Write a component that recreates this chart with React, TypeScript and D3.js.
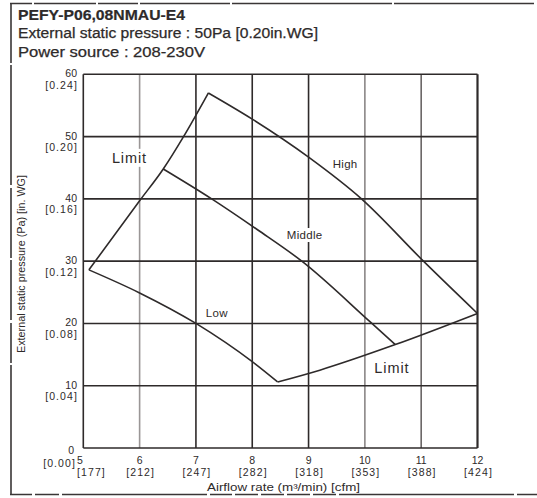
import React, { useEffect, useRef } from "react";
import * as d3 from "d3";

// axis ticks
const airflowTicks = [5, 6, 7, 8, 9, 10, 11, 12];
const cfmLabels = ["177", "212", "247", "282", "318", "353", "388", "424"];
const pressureTicks = [0, 10, 20, 30, 40, 50, 60];
const inWgLabels = ["0.00", "0.04", "0.08", "0.12", "0.16", "0.20", "0.24"];

// curves, [airflow m3/min, pressure Pa]
const leftLimit = [[5.1, 28.6], [6, 39.7], [6.42, 44.8], [6.78, 50], [7.22, 57]];
const highCurve = [[7.22, 57], [8, 52.8], [9, 46.7], [9.94, 40], [11.04, 30], [12, 21.6]];
const middleCurve = [[6.42, 44.8], [7.28, 40], [8.1, 35], [8.88, 30], [10.1, 20.2], [10.54, 16.6]];
const lowCurve = [[5.1, 28.6], [6, 24.9], [7, 20], [8, 13.85], [8.45, 10.6]];
const bottomLimit = [[8.45, 10.6], [9.2, 12.5], [10.54, 16.6], [12, 21.6]];

const curveNames = ["Limit", "High", "Middle", "Low", "Limit"];
const curveLabelPos = [[5.82, 46.6], [9.65, 45.6], [8.93, 34.2], [7.37, 21.6], [10.48, 12.8]];

const titleLines = [
  "PEFY-P06,08NMAU-E4",
  "External static pressure : 50Pa [0.20in.WG]",
  "Power source : 208-230V",
];

function App() {
  const ref = useRef<SVGSVGElement>(null);

  useEffect(() => {
    const svg = d3.select(ref.current);
    svg.selectAll("*").remove();

    const ink = "#2e2a2a";
    const font = "'Liberation Sans', Arial, sans-serif";

    const x = d3.scaleLinear().domain([5, 12]).range([83.3, 477.5]);
    const y = d3.scaleLinear().domain([0, 60]).range([448, 74.3]);

    // scan frame
    const frame = svg.append("g").attr("stroke", "#3a3636").attr("stroke-width", 1.6).attr("fill", "none");
    frame.append("line").attr("x1", 10).attr("x2", 537).attr("y1", 3.5).attr("y2", 3.5)
      .attr("stroke-dasharray", "22 2 62 2 40 2 90 2 160 2 140");
    frame.append("line").attr("x1", 11).attr("x2", 11).attr("y1", 3).attr("y2", 495)
      .attr("stroke-dasharray", "60 2 120 3 70 2 60 3 40 2 160");
    frame.append("line").attr("x1", 10).attr("x2", 537).attr("y1", 494.5).attr("y2", 494.5)
      .attr("stroke-dasharray", "22 3 24 3 145 3 22 3 23 3 23 3 23 3 23 3 175 3 30");

    // title
    const tw = [167, 300, 187];
    titleLines.forEach((t, i) => {
      svg.append("text")
        .attr("x", 18)
        .attr("y", 20 + i * 18.3)
        .attr("font-family", font)
        .attr("font-size", 14)
        .attr("font-weight", i === 0 ? "bold" : "normal")
        .attr("fill", ink)
        .attr("stroke", ink)
        .attr("stroke-width", i === 0 ? 0.2 : 0.25)
        .attr("textLength", tw[i])
        .attr("lengthAdjust", "spacingAndGlyphs")
        .text(t);
    });

    // grid
    const grid = svg.append("g").attr("fill", "none");
    const vShade: Record<number, string> = { 6: "#9a9696", 10: "#8a8686", 11: "#6a6666" };
    airflowTicks.forEach(v => {
      grid.append("line")
        .attr("x1", x(v)).attr("x2", x(v))
        .attr("y1", y(0)).attr("y2", y(60))
        .attr("stroke", vShade[v] || ink)
        .attr("stroke-width", v === 12 ? 2.2 : 1.6);
    });
    pressureTicks.forEach(v => {
      grid.append("line")
        .attr("x1", x(5)).attr("x2", x(12))
        .attr("y1", y(v)).attr("y2", y(v))
        .attr("stroke", ink)
        .attr("stroke-width", 1.6);
    });

    // y tick labels
    const tickFont = 10.5;
    pressureTicks.forEach((v, i) => {
      const zero = v === 0;
      svg.append("text")
        .attr("x", zero ? 74.5 : 77.5)
        .attr("y", y(v) + (zero ? 6 : 3))
        .attr("text-anchor", "end")
        .attr("font-family", font).attr("font-size", tickFont).attr("fill", ink)
        .attr("letter-spacing", 0.3)
        .text(String(v));
      svg.append("text")
        .attr("x", zero ? 76 : 78)
        .attr("y", y(v) + (zero ? 18.5 : 14.5))
        .attr("text-anchor", "end")
        .attr("font-family", font).attr("font-size", tickFont).attr("fill", ink)
        .attr("letter-spacing", 1.1)
        .text(`[${inWgLabels[i]}]`);
    });

    // x tick labels
    airflowTicks.forEach((v, i) => {
      const first = i === 0;
      svg.append("text")
        .attr("x", first ? 77 : x(v))
        .attr("y", 463.5)
        .attr("text-anchor", first ? "start" : "middle")
        .attr("font-family", font).attr("font-size", tickFont).attr("fill", ink)
        .text(String(v));
      svg.append("text")
        .attr("x", first ? 77 : x(v) + 1)
        .attr("y", 475.5)
        .attr("text-anchor", first ? "start" : "middle")
        .attr("font-family", font).attr("font-size", tickFont).attr("fill", ink)
        .attr("letter-spacing", 1.1)
        .text(`[${cfmLabels[i]}]`);
    });

    // axis titles
    svg.append("text")
      .attr("x", 207).attr("y", 491)
      .attr("font-family", font).attr("font-size", 10).attr("fill", ink)
      .attr("textLength", 153).attr("lengthAdjust", "spacingAndGlyphs")
      .text("Airflow rate (m³/min) [cfm]");
    svg.append("text")
      .attr("transform", "translate(25,353) rotate(-90)")
      .attr("font-family", font).attr("font-size", 10.5).attr("fill", ink)
      .attr("textLength", 178).attr("lengthAdjust", "spacingAndGlyphs")
      .text("External static pressure (Pa) [in. WG]");

    // curves
    const line = d3.line<number[]>()
      .x(d => x(d[0]))
      .y(d => y(d[1]))
      .curve(d3.curveMonotoneX);
    [leftLimit, highCurve, middleCurve, lowCurve, bottomLimit].forEach(c => {
      svg.append("path")
        .attr("d", line(c))
        .attr("fill", "none")
        .attr("stroke", ink)
        .attr("stroke-width", 1.6)
        .attr("stroke-linejoin", "miter");
    });

    // curve labels, with white backing so they cut the grid
    curveNames.forEach((name, i) => {
      const big = name === "Limit";
      const g = svg.append("g");
      const t = g.append("text")
        .attr("x", x(curveLabelPos[i][0]))
        .attr("y", y(curveLabelPos[i][1]))
        .attr("dy", "0.35em")
        .attr("text-anchor", "middle")
        .attr("font-family", font)
        .attr("font-size", big ? 14.5 : 11.5)
        .attr("letter-spacing", big ? 0.9 : 0.3)
        .attr("fill", ink)
        .text(name);
      const b = (t.node() as SVGTextElement).getBBox();
      g.insert("rect", "text")
        .attr("x", b.x - 2).attr("y", b.y - 1)
        .attr("width", b.width + 4).attr("height", b.height + 2)
        .attr("fill", "#fff");
    });
  }, []);

  return (
    <svg
      ref={ref}
      width={537}
      height={498}
      style={{ position: "absolute", left: 0, top: 0, background: "#fff" }}
    />
  );
}

export default App;
